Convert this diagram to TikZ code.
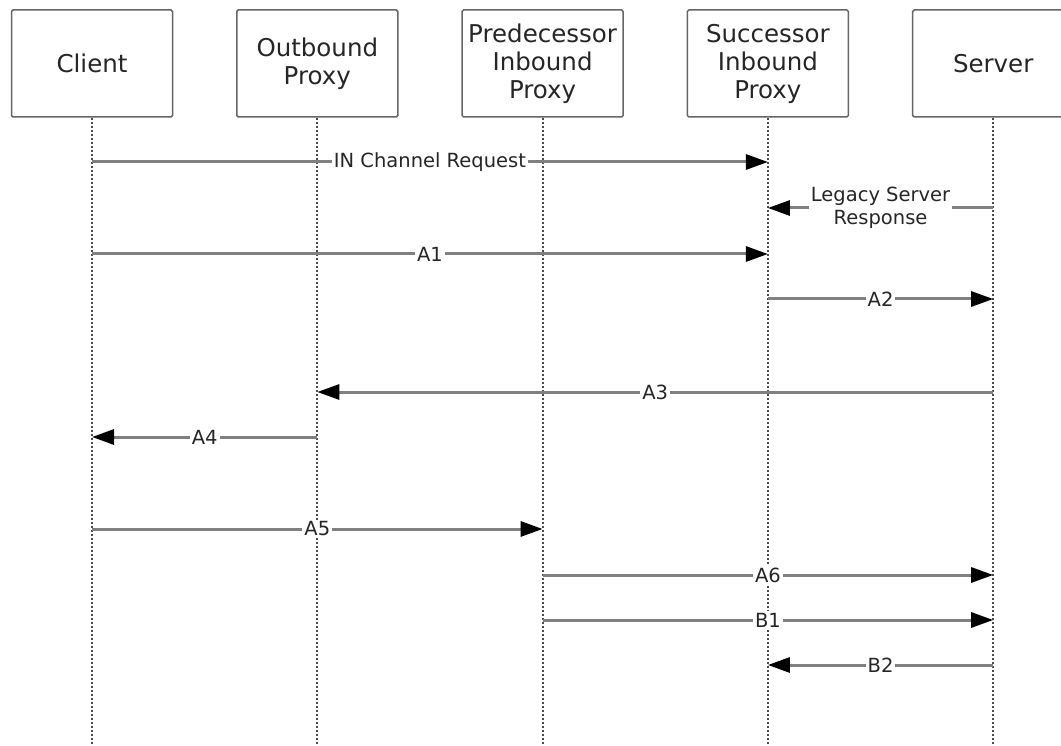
\documentclass[tikz,border=0pt]{standalone}
\usepackage{fontspec}
\setmainfont{DejaVu Sans}
\usetikzlibrary{arrows.meta, positioning}

\begin{document}
\begin{tikzpicture}[x=1pt,y=1pt,node distance=225.3pt,
    party/.style={draw=black!60, line width=1.5pt, rounded corners=1.5pt, fill=white,
      minimum width=161pt, minimum height=107pt, align=center, text=black!85,
      font=\fontsize{24.5}{28}\selectfont},
    life/.style={black!70, line width=2pt, dash pattern=on 2pt off 2pt},
    msg/.style={black!50, line width=3pt, -{Triangle[length=22pt,width=15pt,black]}},
    lbl/.style={fill=white, inner sep=2pt, text=black!85, align=center,
      font=\fontsize{19.5}{23}\selectfont}]
			\useasboundingbox (0,0) rectangle (1061,-746);
			\node[party] at (92,-63.5)          (client)   {Client};
			\node[party, right of=client]        (outbound) {Outbound\\Proxy};
			\node[party, right of=outbound]      (pred)     {Predecessor\\Inbound\\Proxy};
			\node[party, right of=pred]          (succ)     {Successor\\Inbound\\Proxy};
			\node[party, right of=succ]          (server)   {Server};
			\coordinate (bottom) at (0,-746);
			\foreach \p in {client,outbound,pred,succ,server}
				\draw[life] (\p.south) -- (\p |- bottom);
			% message rows
			\foreach \r/\y in {r1/162, r2/208, r3/254, r4/299, r5/392, r6/437, r7/529, r8/575, r9/620, r10/665}
				\coordinate (\r) at (0,-\y);
			\draw[msg] (client |- r1)   -- node[lbl] {IN Channel Request}    (succ |- r1);
			\draw[msg] (server |- r2)   -- node[lbl] {Legacy Server\\Response} (succ |- r2);
			\draw[msg] (client |- r3)   -- node[lbl] {A1} (succ |- r3);
			\draw[msg] (succ |- r4)     -- node[lbl] {A2} (server |- r4);
			\draw[msg] (server |- r5)   -- node[lbl] {A3} (outbound |- r5);
			\draw[msg] (outbound |- r6) -- node[lbl] {A4} (client |- r6);
			\draw[msg] (client |- r7)   -- node[lbl] {A5} (pred |- r7);
			\draw[msg] (pred |- r8)     -- node[lbl] {A6} (server |- r8);
			\draw[msg] (pred |- r9)     -- node[lbl] {B1} (server |- r9);
			\draw[msg] (server |- r10)  -- node[lbl] {B2} (succ |- r10);
		\end{tikzpicture}
\end{document}
